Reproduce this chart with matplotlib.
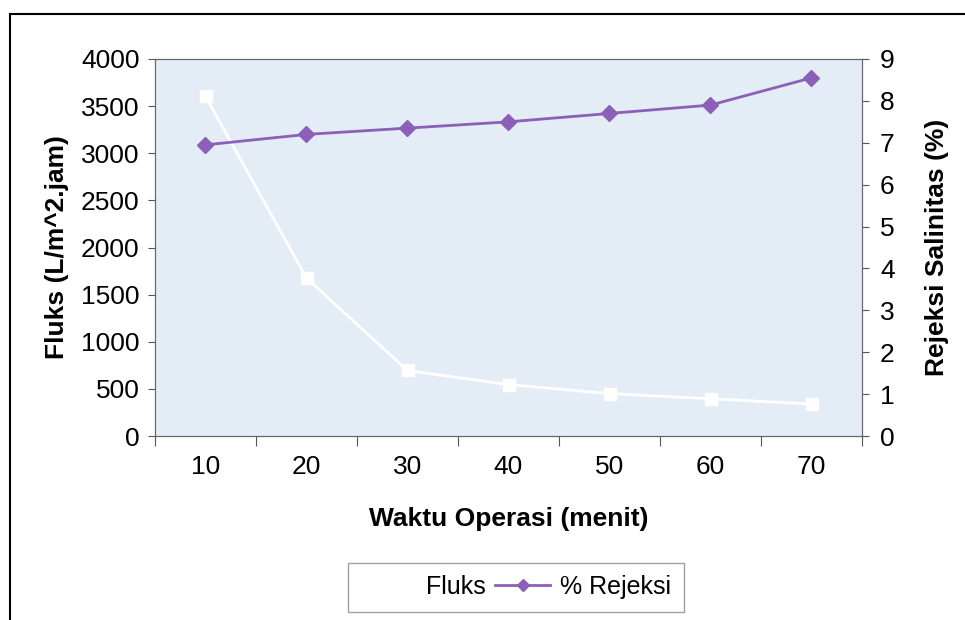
import matplotlib.pyplot as plt
from matplotlib.patches import Rectangle
from matplotlib.lines import Line2D

plt.rcParams['font.family'] = ['Liberation Sans', 'DejaVu Sans']

waktu = [10, 20, 30, 40, 50, 60, 70]
fluks = [3605, 1675, 695, 545, 450, 395, 340]
rejeksi = [6.95, 7.2, 7.35, 7.5, 7.7, 7.9, 8.55]

purple = "#8c5fb8"
bg = "#e4ecf6"
fs = 19

fig = plt.figure(figsize=(9.65, 6.2), dpi=100)
fig.patches.append(Rectangle((10 / 965, -0.1), 1.1, 1 - 14 / 620 + 0.1,
                             transform=fig.transFigure, fill=False,
                             edgecolor="black", lw=1.5))

ax = fig.add_axes([155 / 965, 1 - 436 / 620, 707 / 965, 377 / 620])
ax.set_facecolor(bg)
x = list(range(len(waktu)))
ax.plot(x, fluks, color="white", lw=2, marker="s", ms=8,
        markerfacecolor="white", markeredgecolor="white", label="Fluks")
ax.set_xlim(-0.5, len(waktu) - 0.5)
ax.set_ylim(0, 4000)
ax.set_yticks(range(0, 4001, 500))
# category axis: ticks between categories, labels centred on them
ax.set_xticks([i - 0.5 for i in range(len(waktu) + 1)])
ax.set_xticklabels([])
ax.set_xticks(x, minor=True)
ax.set_xticklabels([str(w) for w in waktu], minor=True)
ax.tick_params(axis="x", which="minor", length=0, pad=14, labelsize=fs)
ax.tick_params(axis="x", which="major", length=7, color="#555555")
ax.tick_params(axis="y", length=5, labelsize=fs, color="#555555", pad=6)
for s in ax.spines.values():
    s.set_color("#666666")
ax.set_xlabel("Waktu Operasi (menit)", fontsize=fs, fontweight="bold", labelpad=20)
ax.set_ylabel("Fluks (L/m^2.jam)", fontsize=fs, fontweight="bold", labelpad=9)

ax2 = ax.twinx()
ax2.plot(x, rejeksi, color=purple, lw=2, marker="D", ms=8,
         markerfacecolor=purple, markeredgecolor=purple, label="% Rejeksi")
ax2.set_ylim(0, 9)
ax2.set_yticks(range(0, 10))
ax2.tick_params(axis="y", length=5, labelsize=fs, color="#555555", pad=8)
ax2.set_ylabel("Rejeksi Salinitas (%)", fontsize=fs, fontweight="bold", labelpad=22)
for s in ax2.spines.values():
    s.set_color("#666666")

handles = [Line2D([], [], color="white", lw=2, marker="s", ms=6),
           Line2D([], [], color=purple, lw=2, marker="D", ms=6)]
fig.legend(handles, ["Fluks", "% Rejeksi"], loc="center",
           bbox_to_anchor=(516 / 965, 1 - 587 / 620), ncol=2, fontsize=18,
           frameon=True, fancybox=False, edgecolor="#888888",
           handlelength=2.2, columnspacing=0.4, handletextpad=0.4,
           borderpad=0.5)

fig.savefig("out.png", dpi=100)
